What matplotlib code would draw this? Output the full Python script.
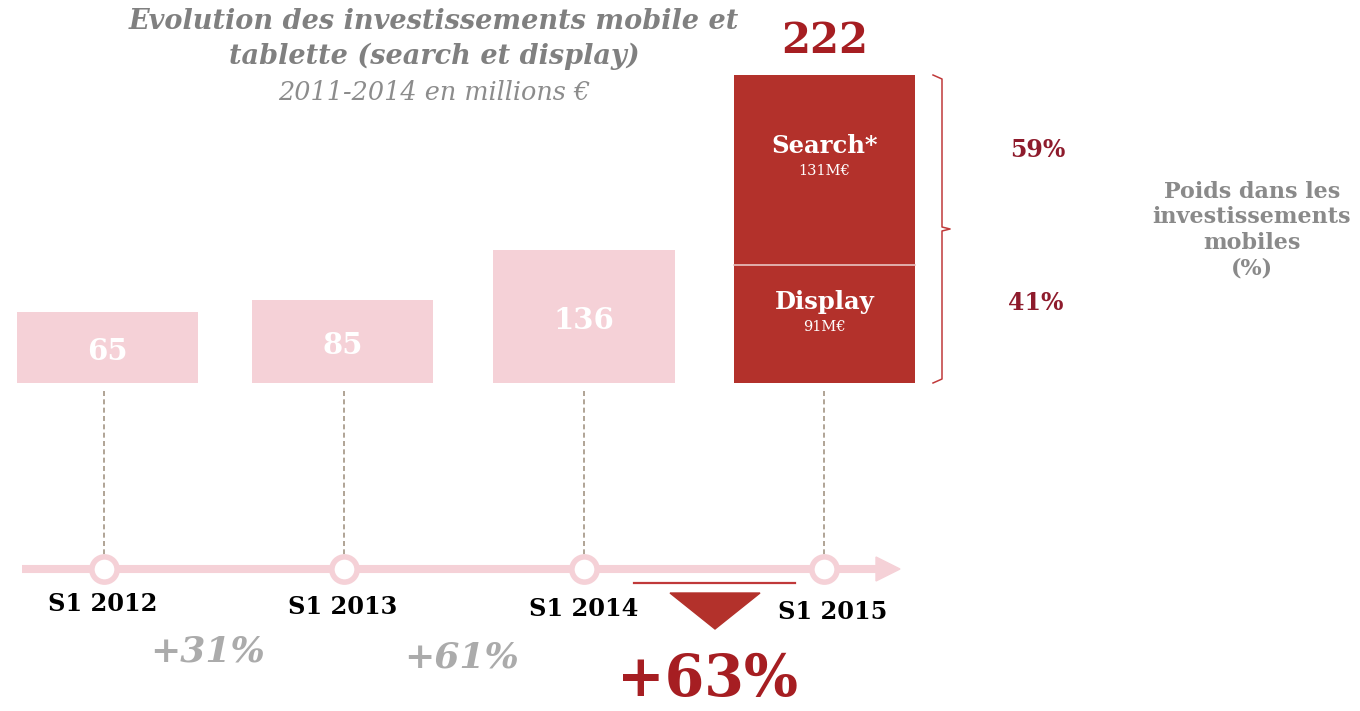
import matplotlib
matplotlib.use("Agg")
import matplotlib.pyplot as plt
from matplotlib.patches import Polygon

# ---- data ----
periods = ["S1 2012", "S1 2013", "S1 2014", "S1 2015"]
totals = [65, 85, 136, 222]
bar_heights = [71, 83, 133]          # drawn heights of the first three bars
stack_labels = ["Display", "Search*"]
stack_values = [91, 131]             # M€
stack_heights = [118, 190]           # drawn heights of the stacked bar segments
stack_shares = ["41%", "59%"]
growth = ["+31%", "+61%", "+63%"]

PINK = "#F5D1D7"
RED = "#B3312B"
DARKRED = "#A61E22"
WINE = "#8E1B2C"
GREY = "#808080"
LGREY = "#ABABAB"
SERIF = ["DejaVu Serif"]

W, H = 1360, 711
fig = plt.figure(figsize=(W / 100, H / 100), dpi=100)
ax = fig.add_axes([0, 0, 1, 1])
X0, DX = 104, 240           # pixel of category 0, pixels per category
BASE = 383                  # pixel row of bar bottoms
ax.set_xlim(-X0 / DX, (W - X0) / DX)
ax.set_ylim(-(H - BASE), BASE)
ax.axis("off")


def P(px, py):
    """pixel -> data coordinates (for text placement)"""
    return (px - X0) / DX, BASE - py


xs = list(range(len(periods)))
bar_x = [x + d for x, d in zip(xs, [0.015, -0.006, 0.0, 0.002])]
bw = 0.755

# light bars
ax.bar(bar_x[:3], bar_heights, width=bw, color=PINK, align="center", zorder=2)
# stacked red bar
ax.bar(bar_x[3], stack_heights[0], width=bw, color=RED, zorder=2)
ax.bar(bar_x[3], stack_heights[1], bottom=stack_heights[0], width=bw, color=RED,
       edgecolor="none", zorder=2)
ax.plot([bar_x[3] - bw / 2, bar_x[3] + bw / 2], [stack_heights[0]] * 2, color="#E8C4C2",
        lw=1.2, zorder=3)

# bar value labels
for i, (v, h) in enumerate(zip(totals[:3], bar_heights)):
    ax.text(bar_x[i], h / 2 - 4, str(v), ha="center", va="center",
            color="white", fontsize=21, fontweight="bold", family=SERIF, zorder=4)

# stack labels
offsets = [37, 71]   # label distance below segment top
bottoms = [0, stack_heights[0]]
for lab, val, bottom, h, off in zip(stack_labels, stack_values, bottoms, stack_heights, offsets):
    yc = bottom + h - off
    ax.text(bar_x[3], yc, lab, ha="center", va="center", color="white", fontsize=17.5,
            fontweight="bold", family=SERIF, zorder=4)
    ax.text(bar_x[3], yc - 25, f"{val}M€", ha="center", va="center", color="white",
            fontsize=10.5, family=SERIF, zorder=4)

total_h = sum(stack_heights)
ax.text(bar_x[3], total_h + 34, str(totals[3]), ha="center", va="center", color=DARKRED,
        fontsize=30, fontweight="bold", family=SERIF)

# bracket
bx = xs[3] + (942 - 824) / DX
hook = 9 / DX
mid = total_h / 2
ax.plot([bx - hook, bx, bx, bx + hook * 0.9, bx, bx, bx - hook],
        [total_h, total_h - 4, mid + 2, mid, mid - 2, 4, 0],
        color="#C0393A", lw=1.1, solid_joinstyle="round")

# shares
ax.text(*P(1038, 150), stack_shares[1], ha="center", va="center", color=WINE,
        fontsize=17, fontweight="bold", family=SERIF)
ax.text(*P(1036, 303), stack_shares[0], ha="center", va="center", color=WINE,
        fontsize=17, fontweight="bold", family=SERIF)
ax.text(*P(1252, 230), "Poids dans les\ninvestissements\nmobiles\n(%)", ha="center",
        va="center", color="#8A8A8A", fontsize=16, fontweight="bold", family=SERIF,
        linespacing=1.2)

# timeline
TL = BASE - 569
ax.plot([(22 - X0) / DX, (885 - X0) / DX], [TL, TL], color=PINK, lw=5.8,
        solid_capstyle="butt", zorder=1)
tip = (900 - X0) / DX
ax.add_patch(Polygon([[(876 - X0) / DX, TL + 12], [tip, TL], [(876 - X0) / DX, TL - 12]],
                     closed=True, color=PINK, zorder=1))
# dashed connectors
for i in xs:
    ax.plot([i, i], [-8, TL + 12], color="#A39584", lw=1.2, ls=(0, (3, 2)), zorder=1)
ax.scatter(xs, [TL] * len(xs), s=330, facecolor="white", edgecolor=PINK,
           linewidths=4, zorder=3)

# period labels
lab_y = [604, 607, 609, 612]
lab_x = [103, 343, 584, 833]
for i, p in enumerate(periods):
    ax.text(*P(lab_x[i], lab_y[i]), p, ha="center", va="center", color="black",
            fontsize=17.3, fontweight="bold", family=SERIF)

# growth labels
ax.text(*P(208, 652), growth[0], ha="center", va="center", color=LGREY,
        fontsize=26, fontweight="bold", style="italic", family=SERIF)
ax.text(*P(462, 658), growth[1], ha="center", va="center", color=LGREY,
        fontsize=26, fontweight="bold", style="italic", family=SERIF)
ax.text(*P(708, 680), growth[2], ha="center", va="center", color=DARKRED,
        fontsize=41, fontweight="bold", family=SERIF)

# red marker: line + triangle
ax.plot([(634 - X0) / DX, (795 - X0) / DX], [BASE - 583] * 2, color="#C0393A", lw=1.6)
ax.add_patch(Polygon([[(670 - X0) / DX, BASE - 593], [(760 - X0) / DX, BASE - 593],
                      [(715 - X0) / DX, BASE - 629]], closed=True, color=RED))

# title
ax.text(*P(434, 39), "Evolution des investissements mobile et\ntablette (search et display)",
        ha="center", va="center", color=GREY, fontsize=19.5, fontweight="bold",
        style="italic", family=SERIF, linespacing=1.4)
ax.text(*P(434, 93), "2011-2014 en millions €", ha="center", va="center",
        color="#8C8C8C", fontsize=18.4, style="italic", family=SERIF)

fig.savefig("out.png", dpi=100)
